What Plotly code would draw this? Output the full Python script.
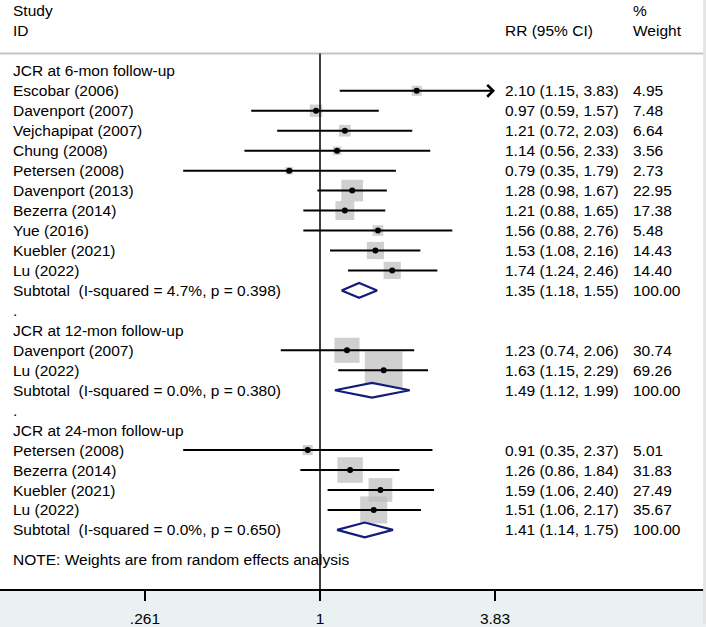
import numpy as np # for log positions
import plotly.graph_objects as go # for plotting

# study level data (three follow-up subgroups)
group_titles = ["JCR at 6-mon follow-up", "JCR at 12-mon follow-up", "JCR at 24-mon follow-up"]
study_group = [0, 0, 0, 0, 0, 0, 0, 0, 0, 0, 1, 1, 2, 2, 2, 2]
study_names = ["Escobar (2006)", "Davenport (2007)", "Vejchapipat (2007)", "Chung (2008)",
               "Petersen (2008)", "Davenport (2013)", "Bezerra (2014)", "Yue (2016)",
               "Kuebler (2021)", "Lu (2022)",
               "Davenport (2007)", "Lu (2022)",
               "Petersen (2008)", "Bezerra (2014)", "Kuebler (2021)", "Lu (2022)"]
rr = [2.10, 0.97, 1.21, 1.14, 0.79, 1.28, 1.21, 1.56, 1.53, 1.74,
      1.23, 1.63,
      0.91, 1.26, 1.59, 1.51]
ci_lo = [1.15, 0.59, 0.72, 0.56, 0.35, 0.98, 0.88, 0.88, 1.08, 1.24,
         0.74, 1.15,
         0.35, 0.86, 1.06, 1.06]
ci_hi = [3.83, 1.57, 2.03, 2.33, 1.79, 1.67, 1.65, 2.76, 2.16, 2.46,
         2.06, 2.29,
         2.37, 1.84, 2.40, 2.17]
weight = [4.95, 7.48, 6.64, 3.56, 2.73, 22.95, 17.38, 5.48, 14.43, 14.40,
          30.74, 69.26,
          5.01, 31.83, 27.49, 35.67]

# subgroup pooled estimates
sub_labels = ["Subtotal  (I-squared = 4.7%, p = 0.398)",
              "Subtotal  (I-squared = 0.0%, p = 0.380)",
              "Subtotal  (I-squared = 0.0%, p = 0.650)"]
sub_rr = [1.35, 1.49, 1.41]
sub_lo = [1.18, 1.12, 1.14]
sub_hi = [1.55, 1.99, 1.75]
sub_weight = [100.00, 100.00, 100.00]

# x axis ticks
tick_vals = [0.261, 1, 3.83]
tick_text = [".261", "1", "3.83"]

note_text = "NOTE: Weights are from random effects analysis"

FONT = dict(family="Arial, Liberation Sans, sans-serif", size=15.5, color="black")

# assign a row to every line of the table
rows_label = []   # (row, text)
study_row = [0] * len(study_names)
sub_row = [0] * len(sub_labels)
r = 0
for g, title in enumerate(group_titles):
    rows_label.append((r, title))
    r += 1
    for i in range(len(study_names)):
        if study_group[i] == g:
            study_row[i] = r
            rows_label.append((r, study_names[i]))
            r += 1
    sub_row[g] = r
    rows_label.append((r, sub_labels[g]))
    r += 1
    if g < len(group_titles) - 1:
        rows_label.append((r, "."))
        r += 1
note_row = r + 0.5

fig = go.Figure()

# grey weight boxes (area ~ weight)
fig.add_trace(go.Scatter(
    x=rr, y=study_row, mode="markers",
    marker=dict(symbol="square", size=[4.53 * np.sqrt(w) for w in weight],
                color="#bcbcbc", line=dict(width=0)),
    hoverinfo="skip"))

# confidence intervals (clipped ones get an arrow instead)
xmax = max(tick_vals)
seg_x, seg_y = [], []
for i in range(len(rr)):
    if ci_hi[i] >= xmax:
        fig.add_annotation(x=np.log10(ci_hi[i]), y=study_row[i],
                           ax=np.log10(ci_lo[i]), ay=study_row[i],
                           xref="x", yref="y", axref="x", ayref="y",
                           text="", showarrow=True, arrowhead=4, arrowsize=1.15,
                           arrowwidth=2, arrowcolor="black", standoff=0)
    else:
        seg_x += [ci_lo[i], ci_hi[i], None]
        seg_y += [study_row[i], study_row[i], None]
fig.add_trace(go.Scatter(x=seg_x, y=seg_y, mode="lines",
                         line=dict(color="black", width=2), hoverinfo="skip"))

# point estimates
fig.add_trace(go.Scatter(x=rr, y=study_row, mode="markers",
                         marker=dict(color="black", size=6), hoverinfo="skip"))

# subtotal diamonds
for g in range(len(sub_rr)):
    h = 0.37
    fig.add_trace(go.Scatter(
        x=[sub_lo[g], sub_rr[g], sub_hi[g], sub_rr[g], sub_lo[g]],
        y=[sub_row[g], sub_row[g] - h, sub_row[g], sub_row[g] + h, sub_row[g]],
        mode="lines", fill="toself", fillcolor="white",
        line=dict(color="#111c7c", width=2.2), hoverinfo="skip"))

# left column text
for row, txt in rows_label:
    fig.add_annotation(x=11 / 706, y=row, xref="paper", yref="y", text=txt,
                       showarrow=False, xanchor="left", yanchor="middle", font=FONT)
fig.add_annotation(x=11 / 706, y=note_row, xref="paper", yref="y", text=note_text,
                   showarrow=False, xanchor="left", yanchor="middle", font=FONT)

# right columns: RR (95% CI) and weight
for i in range(len(rr)):
    fig.add_annotation(x=503 / 706, y=study_row[i], xref="paper", yref="y",
                       text=f"{rr[i]:.2f} ({ci_lo[i]:.2f}, {ci_hi[i]:.2f})",
                       showarrow=False, xanchor="left", yanchor="middle", font=FONT)
    fig.add_annotation(x=631 / 706, y=study_row[i], xref="paper", yref="y",
                       text=f"{weight[i]:.2f}",
                       showarrow=False, xanchor="left", yanchor="middle", font=FONT)
for g in range(len(sub_rr)):
    fig.add_annotation(x=503 / 706, y=sub_row[g], xref="paper", yref="y",
                       text=f"{sub_rr[g]:.2f} ({sub_lo[g]:.2f}, {sub_hi[g]:.2f})",
                       showarrow=False, xanchor="left", yanchor="middle", font=FONT)
    fig.add_annotation(x=631 / 706, y=sub_row[g], xref="paper", yref="y",
                       text=f"{sub_weight[g]:.2f}",
                       showarrow=False, xanchor="left", yanchor="middle", font=FONT)

# header
for x, row, txt in [(11, -3, "Study"), (11, -2, "ID"), (503, -2, "RR (95% CI)"),
                    (631, -3, "%"), (631, -2, "Weight")]:
    fig.add_annotation(x=x / 706, y=row, xref="paper", yref="y", text=txt,
                       showarrow=False, xanchor="left", yanchor="middle", font=FONT)

# header separator and line of no effect
header_line = -0.875
fig.add_shape(type="line", xref="paper", yref="y", x0=0, x1=1, y0=header_line, y1=header_line,
              line=dict(color="#c4c4c4", width=2))
fig.add_shape(type="line", xref="x", yref="y", x0=1, x1=1, y0=header_line, y1=25.96,
              line=dict(color="black", width=1.5))
# faint right border
fig.add_shape(type="line", xref="paper", yref="paper", x0=0.998, x1=0.998, y0=-0.06, y1=1,
              line=dict(color="#e4e4e4", width=3))

fig.update_layout(
    width=706, height=627,
    margin=dict(l=0, r=0, t=0, b=31),
    paper_bgcolor="#eaf1f3", plot_bgcolor="white",
    showlegend=False,
    xaxis=dict(type="log", range=[-1.0663, 1.2862], tickvals=tick_vals, ticktext=tick_text,
               ticks="outside", ticklen=10, tickwidth=1.5, tickcolor="black",
               ticklabelstandoff=5,
               showline=True, linecolor="black", linewidth=1.5,
               showgrid=False, zeroline=False, tickfont=FONT, fixedrange=True),
    yaxis=dict(range=[25.96, -3.55], visible=False, fixedrange=True),
)

# drop the browser's default page margin so the figure fills the window
fig.write_html("out.html", config={"displayModeBar": False},
               post_script="document.body.style.margin='0px';")
